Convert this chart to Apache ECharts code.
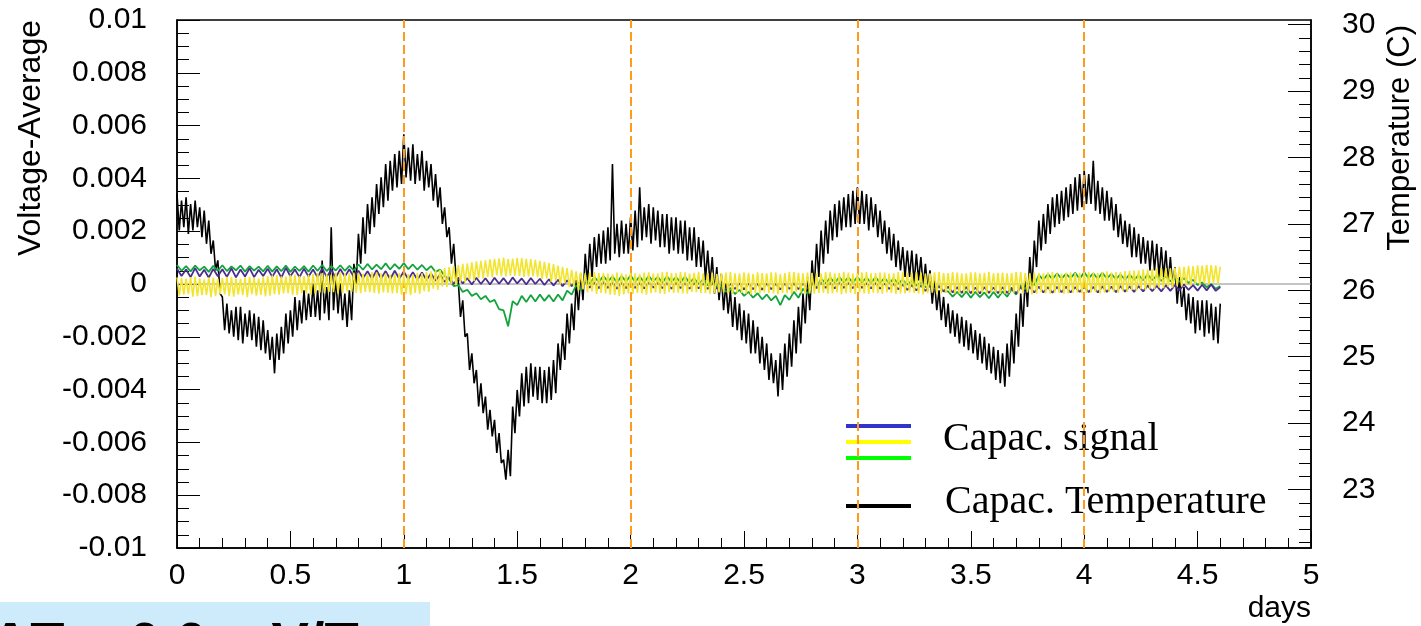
<!DOCTYPE html>
<html>
<head>
<meta charset="utf-8">
<title>Capac. signal / temperature</title>
<script src="https://cdn.jsdelivr.net/npm/echarts@6.0.0/dist/echarts.min.js"></script>
<style>
  html, body { margin: 0; padding: 0; background: #fff; }
  #main { width: 1421px; height: 626px; }
</style>
</head>
<body>
<div id="main"></div>
<script>
// sampling steps (days)
var FINE_STEP = 0.01;    // temperature and yellow channel
var COARSE_STEP = 0.02;  // green and blue channels

// Capac. Temperature (C), right axis, every 0.01 day
var tempC = [
    27.45, 26.90, 27.35, 26.95, 27.40, 26.85, 27.30, 26.90, 27.35, 26.95, 27.25, 26.80, 27.20, 26.70, 27.05, 26.55, 26.75, 26.30, 26.45, 25.95,
    25.90, 25.40, 25.80, 25.35, 25.70, 25.30, 25.75, 25.25, 25.75, 25.20, 25.65, 25.30, 25.70, 25.25, 25.65, 25.15, 25.60, 25.10, 25.55, 25.05,
    25.40, 24.95, 25.30, 24.75, 25.35, 24.95, 25.45, 25.05, 25.65, 25.20, 25.70, 25.30, 25.90, 25.40, 25.85, 25.50, 26.00, 25.55, 25.95, 25.60,
    26.10, 25.60, 26.00, 25.55, 26.45, 25.65, 26.05, 25.55, 26.95, 25.70, 26.20, 25.65, 26.10, 25.55, 25.95, 25.45, 26.00, 25.55, 26.40, 26.10,
    26.85, 26.40, 27.10, 26.55, 27.30, 26.85, 27.40, 26.95, 27.60, 27.15, 27.70, 27.25, 27.90, 27.35, 27.95, 27.50, 28.05, 27.55, 28.10, 27.60,
    28.35, 27.70, 28.15, 27.65, 28.20, 27.60, 28.05, 27.65, 28.10, 27.50, 27.95, 27.55, 27.90, 27.35, 27.75, 27.25, 27.55, 27.00, 27.25, 26.80,
    26.95, 26.40, 26.70, 26.20, 26.15, 25.60, 25.85, 25.30, 25.35, 24.80, 25.05, 24.60, 24.80, 24.25, 24.60, 24.15, 24.40, 23.90, 24.20, 23.80,
    24.05, 23.55, 23.85, 23.40, 23.45, 23.15, 23.60, 23.20, 24.25, 23.85, 24.50, 24.10, 24.75, 24.25, 24.85, 24.30, 24.90, 24.40, 24.85, 24.35,
    24.85, 24.30, 24.80, 24.30, 24.85, 24.35, 24.95, 24.45, 25.20, 24.80, 25.35, 24.95, 25.65, 25.20, 25.80, 25.40, 26.15, 25.70, 26.25, 25.85,
    26.55, 26.10, 26.70, 26.20, 26.80, 26.35, 26.85, 26.40, 26.90, 26.40, 26.95, 26.45, 27.90, 26.55, 27.00, 26.50, 27.05, 26.55, 27.00, 26.55,
    27.10, 26.60, 27.20, 26.65, 27.55, 26.75, 27.25, 26.80, 27.30, 26.70, 27.25, 26.75, 27.20, 26.65, 27.15, 26.65, 27.15, 26.55, 27.10, 26.60,
    27.10, 26.55, 27.05, 26.55, 27.05, 26.45, 26.95, 26.45, 26.95, 26.35, 26.80, 26.35, 26.75, 26.15, 26.60, 26.10, 26.50, 25.95, 26.35, 25.85,
    26.25, 25.70, 26.10, 25.65, 26.00, 25.45, 25.90, 25.40, 25.80, 25.25, 25.70, 25.20, 25.65, 25.05, 25.55, 25.05, 25.45, 24.90, 25.30, 24.80,
    25.20, 24.65, 25.05, 24.60, 24.95, 24.40, 25.05, 24.50, 25.20, 24.70, 25.35, 24.85, 25.55, 25.05, 25.75, 25.20, 25.95, 25.50, 26.20, 25.70,
    26.45, 26.05, 26.70, 26.20, 26.90, 26.40, 27.05, 26.55, 27.20, 26.75, 27.30, 26.80, 27.35, 26.90, 27.40, 26.95, 27.45, 26.95, 27.50, 27.00,
    27.55, 27.00, 27.50, 27.00, 27.45, 26.90, 27.40, 26.95, 27.30, 26.80, 27.20, 26.70, 27.05, 26.55, 26.95, 26.45, 26.85, 26.35, 26.75, 26.30,
    26.65, 26.20, 26.60, 26.20, 26.60, 26.10, 26.55, 26.15, 26.50, 26.05, 26.40, 26.00, 26.30, 25.80, 26.15, 25.70, 26.00, 25.55, 25.90, 25.45,
    25.80, 25.35, 25.70, 25.30, 25.65, 25.20, 25.60, 25.15, 25.55, 25.10, 25.50, 25.05, 25.40, 24.95, 25.35, 24.90, 25.30, 24.80, 25.20, 24.75,
    25.15, 24.65, 25.10, 24.60, 25.05, 24.55, 25.20, 24.70, 25.40, 24.90, 25.65, 25.15, 25.95, 25.45, 26.20, 25.75, 26.50, 26.05, 26.75, 26.35,
    27.05, 26.60, 27.15, 26.70, 27.30, 26.85, 27.40, 26.95, 27.45, 27.00, 27.50, 27.05, 27.55, 27.10, 27.60, 27.15, 27.70, 27.20, 27.75, 27.25,
    27.80, 27.30, 27.75, 27.30, 27.95, 27.20, 27.65, 27.15, 27.55, 27.05, 27.50, 27.05, 27.40, 26.90, 27.30, 26.80, 27.15, 26.70, 27.05, 26.65,
    27.00, 26.50, 26.95, 26.50, 26.85, 26.40, 26.80, 26.40, 26.75, 26.30, 26.75, 26.30, 26.70, 26.20, 26.65, 26.20, 26.60, 26.10, 26.50, 26.05,
    26.35, 25.80, 26.20, 25.75, 26.05, 25.55, 25.95, 25.50, 25.90, 25.35, 25.85, 25.40, 25.85, 25.30, 25.85, 25.35, 25.80, 25.25, 25.75, 25.20,
    25.80
];

// Capac. signal, yellow channel (V), every 0.01 day
var sigYellow = [
    0.00025, -0.00044, 0.00022, -0.00040, 0.00020, -0.00038, 0.00026, -0.00048, 0.00028, -0.00046, 0.00021, -0.00042, 0.00018, -0.00041, 0.00025, -0.00050, 0.00024, -0.00045, 0.00019, -0.00038,
    0.00022, -0.00039, 0.00027, -0.00046, 0.00026, -0.00048, 0.00020, -0.00040, 0.00019, -0.00042, 0.00025, -0.00050, 0.00027, -0.00038, 0.00023, -0.00044, 0.00021, -0.00041, 0.00026, -0.00047,
    0.00030, -0.00044, 0.00033, -0.00038, 0.00034, -0.00040, 0.00029, -0.00036, 0.00028, -0.00035, 0.00035, -0.00042, 0.00036, -0.00041, 0.00031, -0.00035, 0.00030, -0.00036, 0.00035, -0.00040,
    0.00038, -0.00036, 0.00041, -0.00032, 0.00042, -0.00035, 0.00037, -0.00030, 0.00036, -0.00031, 0.00043, -0.00036, 0.00044, -0.00034, 0.00039, -0.00028, 0.00040, -0.00030, 0.00043, -0.00034,
    0.00042, -0.00035, 0.00039, -0.00030, 0.00038, -0.00031, 0.00045, -0.00034, 0.00044, -0.00037, 0.00040, -0.00032, 0.00040, -0.00033, 0.00036, -0.00036, 0.00038, -0.00035, 0.00041, -0.00040,
    0.00034, -0.00037, 0.00038, -0.00042, 0.00036, -0.00034, 0.00042, -0.00038, 0.00040, -0.00027, 0.00045, -0.00030, 0.00048, -0.00018, 0.00052, -0.00022, 0.00055, -0.00010, 0.00060, -0.00012,
    0.00064, 0.00000, 0.00068, -0.00004, 0.00072, 0.00008, 0.00076, 0.00006, 0.00078, 0.00016, 0.00082, 0.00012, 0.00086, 0.00022, 0.00088, 0.00020, 0.00090, 0.00027, 0.00093, 0.00025,
    0.00095, 0.00033, 0.00097, 0.00030, 0.00100, 0.00029, 0.00094, 0.00032, 0.00096, 0.00031, 0.00099, 0.00030, 0.00098, 0.00027, 0.00095, 0.00028, 0.00094, 0.00029, 0.00091, 0.00026,
    0.00088, 0.00018, 0.00084, 0.00020, 0.00080, 0.00008, 0.00075, 0.00012, 0.00070, -0.00002, 0.00065, 0.00002, 0.00060, -0.00012, 0.00054, -0.00010, 0.00048, -0.00024, 0.00044, -0.00020,
    0.00040, -0.00032, 0.00044, -0.00028, 0.00046, -0.00038, 0.00041, -0.00034, 0.00042, -0.00036, 0.00039, -0.00040, 0.00038, -0.00041, 0.00043, -0.00045, 0.00040, -0.00039, 0.00037, -0.00036,
    0.00042, -0.00038, 0.00040, -0.00034, 0.00038, -0.00036, 0.00043, -0.00040, 0.00044, -0.00035, 0.00039, -0.00032, 0.00040, -0.00036, 0.00045, -0.00038, 0.00046, -0.00031, 0.00041, -0.00034,
    0.00040, -0.00033, 0.00045, -0.00036, 0.00044, -0.00037, 0.00039, -0.00030, 0.00042, -0.00031, 0.00046, -0.00034, 0.00040, -0.00035, 0.00041, -0.00038, 0.00043, -0.00036, 0.00038, -0.00032,
    0.00041, -0.00031, 0.00043, -0.00036, 0.00045, -0.00038, 0.00040, -0.00033, 0.00040, -0.00034, 0.00044, -0.00037, 0.00042, -0.00039, 0.00038, -0.00035, 0.00044, -0.00036, 0.00041, -0.00032,
    0.00040, -0.00034, 0.00044, -0.00036, 0.00043, -0.00039, 0.00038, -0.00034, 0.00041, -0.00035, 0.00046, -0.00038, 0.00045, -0.00030, 0.00042, -0.00033, 0.00040, -0.00038, 0.00043, -0.00036,
    0.00042, -0.00037, 0.00039, -0.00034, 0.00040, -0.00033, 0.00045, -0.00037, 0.00044, -0.00036, 0.00040, -0.00032, 0.00041, -0.00039, 0.00046, -0.00035, 0.00043, -0.00034, 0.00039, -0.00038,
    0.00040, -0.00032, 0.00044, -0.00036, 0.00045, -0.00038, 0.00040, -0.00033, 0.00041, -0.00035, 0.00043, -0.00037, 0.00043, -0.00031, 0.00039, -0.00034, 0.00040, -0.00038, 0.00045, -0.00036,
    0.00044, -0.00036, 0.00042, -0.00032, 0.00041, -0.00034, 0.00045, -0.00037, 0.00043, -0.00039, 0.00039, -0.00035, 0.00040, -0.00033, 0.00044, -0.00038, 0.00045, -0.00036, 0.00041, -0.00033,
    0.00041, -0.00033, 0.00045, -0.00036, 0.00043, -0.00038, 0.00039, -0.00034, 0.00040, -0.00032, 0.00044, -0.00037, 0.00044, -0.00036, 0.00040, -0.00035, 0.00042, -0.00037, 0.00046, -0.00033,
    0.00040, -0.00034, 0.00042, -0.00038, 0.00043, -0.00037, 0.00040, -0.00034, 0.00041, -0.00033, 0.00046, -0.00036, 0.00045, -0.00035, 0.00041, -0.00032, 0.00040, -0.00039, 0.00043, -0.00037,
    0.00042, -0.00031, 0.00040, -0.00035, 0.00044, -0.00037, 0.00045, -0.00033, 0.00040, -0.00034, 0.00039, -0.00038, 0.00043, -0.00036, 0.00044, -0.00034, 0.00041, -0.00032, 0.00042, -0.00036,
    0.00044, -0.00035, 0.00046, -0.00032, 0.00042, -0.00031, 0.00041, -0.00036, 0.00046, -0.00033, 0.00048, -0.00030, 0.00043, -0.00029, 0.00045, -0.00034, 0.00045, -0.00027, 0.00049, -0.00030,
    0.00050, -0.00023, 0.00051, -0.00026, 0.00052, -0.00020, 0.00056, -0.00022, 0.00055, -0.00018, 0.00057, -0.00020, 0.00058, -0.00013, 0.00061, -0.00016, 0.00060, -0.00011, 0.00059, -0.00014,
    0.00062, -0.00008, 0.00066, -0.00010, 0.00065, -0.00004, 0.00069, -0.00006, 0.00068, -0.00001, 0.00071, -0.00004, 0.00070, 0.00001, 0.00073, -0.00002, 0.00072, 0.00003, 0.00070, 0.00000,
    0.00066
];

// Capac. signal, green channel (V), every 0.02 day
var sigGreen = [
    0.00072, 0.00050, 0.00068, 0.00048, 0.00070, 0.00052, 0.00066, 0.00046, 0.00069, 0.00050,
    0.00071, 0.00049, 0.00067, 0.00052, 0.00070, 0.00047, 0.00068, 0.00051, 0.00066, 0.00048,
    0.00069, 0.00047, 0.00067, 0.00049, 0.00070, 0.00046, 0.00066, 0.00050, 0.00068, 0.00047,
    0.00070, 0.00050, 0.00072, 0.00049, 0.00068, 0.00051, 0.00071, 0.00050, 0.00069, 0.00052,
    0.00074, 0.00054, 0.00076, 0.00055, 0.00073, 0.00056, 0.00078, 0.00055, 0.00075, 0.00057,
    0.00079, 0.00056, 0.00074, 0.00054, 0.00072, 0.00052, 0.00068, 0.00046, 0.00055, 0.00030,
    0.00018, -0.00008, -0.00004, -0.00030, -0.00022, -0.00045, -0.00035, -0.00058, -0.00045, -0.00068,
    -0.00060, -0.00095, -0.00100, -0.00160, -0.00065, -0.00080, -0.00045, -0.00068, -0.00042, -0.00066,
    -0.00040, -0.00064, -0.00042, -0.00066, -0.00040, -0.00062, -0.00025, -0.00040, -0.00005, -0.00022,
    0.00018, 0.00002, 0.00026, 0.00008, 0.00030, 0.00010, 0.00028, 0.00006, 0.00030, 0.00010,
    0.00032, 0.00008, 0.00028, 0.00006, 0.00030, 0.00010, 0.00027, 0.00005, 0.00029, 0.00008,
    0.00026, 0.00006, 0.00028, 0.00004, 0.00022, 0.00000, 0.00018, -0.00005, 0.00010, -0.00012,
    -0.00008, -0.00030, -0.00015, -0.00038, -0.00022, -0.00045, -0.00030, -0.00052, -0.00035, -0.00058,
    -0.00040, -0.00062, -0.00045, -0.00080, -0.00042, -0.00060, -0.00030, -0.00052, -0.00018, -0.00038,
    0.00002, -0.00014, 0.00020, 0.00002, 0.00024, 0.00004, 0.00026, 0.00006, 0.00025, 0.00005,
    0.00026, 0.00006, 0.00024, 0.00004, 0.00025, 0.00005, 0.00022, 0.00003, 0.00020, 0.00002,
    0.00016, -0.00002, 0.00012, -0.00006, 0.00006, -0.00012, 0.00000, -0.00020, -0.00008, -0.00028,
    -0.00028, -0.00048, -0.00030, -0.00050, -0.00028, -0.00052, -0.00030, -0.00050, -0.00032, -0.00054,
    -0.00030, -0.00052, -0.00028, -0.00048, -0.00020, -0.00040, -0.00005, -0.00020, 0.00012, -0.00004,
    0.00034, 0.00016, 0.00038, 0.00018, 0.00040, 0.00020, 0.00038, 0.00022, 0.00042, 0.00020,
    0.00044, 0.00022, 0.00040, 0.00020, 0.00042, 0.00021, 0.00038, 0.00018, 0.00036, 0.00016,
    0.00036, 0.00016, 0.00034, 0.00014, 0.00036, 0.00015, 0.00032, 0.00012, 0.00030, 0.00010,
    0.00028, 0.00008, 0.00022, 0.00004, 0.00016, -0.00004, 0.00006, -0.00012, 0.00000, -0.00018,
    -0.00008
];

// Capac. signal, blue channel (V), every 0.02 day
var sigBlue = [
    0.00058, 0.00030, 0.00055, 0.00026, 0.00060, 0.00028, 0.00054, 0.00024, 0.00057, 0.00029,
    0.00056, 0.00027, 0.00059, 0.00025, 0.00055, 0.00028, 0.00060, 0.00026, 0.00054, 0.00030,
    0.00058, 0.00027, 0.00056, 0.00024, 0.00061, 0.00029, 0.00055, 0.00026, 0.00058, 0.00028,
    0.00055, 0.00025, 0.00059, 0.00027, 0.00054, 0.00024, 0.00057, 0.00028, 0.00056, 0.00026,
    0.00050, 0.00022, 0.00048, 0.00020, 0.00052, 0.00021, 0.00049, 0.00018, 0.00050, 0.00020,
    0.00047, 0.00018, 0.00045, 0.00016, 0.00044, 0.00015, 0.00040, 0.00012, 0.00036, 0.00008,
    0.00026, 0.00000, 0.00024, 0.00002, 0.00022, -0.00002, 0.00024, 0.00000, 0.00022, -0.00002,
    0.00024, 0.00001, 0.00022, -0.00001, 0.00025, 0.00002, 0.00021, -0.00002, 0.00023, 0.00000,
    0.00020, -0.00004, 0.00018, -0.00006, 0.00016, -0.00008, 0.00014, -0.00008, 0.00012, -0.00010,
    0.00008, -0.00014, 0.00006, -0.00016, 0.00008, -0.00015, 0.00006, -0.00018, 0.00005, -0.00016,
    0.00006, -0.00015, 0.00004, -0.00017, 0.00006, -0.00014, 0.00005, -0.00016, 0.00004, -0.00018,
    0.00005, -0.00016, 0.00003, -0.00018, 0.00004, -0.00017, 0.00002, -0.00019, 0.00003, -0.00018,
    0.00002, -0.00020, 0.00001, -0.00019, 0.00003, -0.00021, 0.00002, -0.00020, 0.00001, -0.00022,
    0.00002, -0.00020, 0.00001, -0.00021, 0.00002, -0.00019, 0.00003, -0.00020, 0.00002, -0.00018,
    0.00004, -0.00016, 0.00005, -0.00015, 0.00004, -0.00017, 0.00006, -0.00015, 0.00004, -0.00016,
    0.00005, -0.00015, 0.00003, -0.00017, 0.00004, -0.00018, 0.00002, -0.00019, 0.00001, -0.00020,
    -0.00002, -0.00022, -0.00004, -0.00024, -0.00005, -0.00026, -0.00006, -0.00027, -0.00008, -0.00028,
    -0.00010, -0.00032, -0.00012, -0.00034, -0.00011, -0.00035, -0.00013, -0.00036, -0.00012, -0.00034,
    -0.00013, -0.00035, -0.00012, -0.00034, -0.00014, -0.00036, -0.00012, -0.00033, -0.00011, -0.00032,
    -0.00010, -0.00032, -0.00012, -0.00033, -0.00011, -0.00031, -0.00010, -0.00032, -0.00012, -0.00030,
    -0.00010, -0.00031, -0.00011, -0.00032, -0.00009, -0.00030, -0.00010, -0.00031, -0.00008, -0.00029,
    -0.00009, -0.00030, -0.00008, -0.00028, -0.00006, -0.00027, -0.00007, -0.00028, -0.00005, -0.00026,
    -0.00004, -0.00024, -0.00002, -0.00022, -0.00004, -0.00025, -0.00003, -0.00024, -0.00002, -0.00026,
    -0.00012
];

// flat zero trace (grey) across the whole range
var zeroTrace = [[0, 0], [5, 0]];

// orange dashed day markers
var markerDays = [1, 2, 3, 4];

// right axis tick labels
var tempLabels = [23, 24, 25, 26, 27, 28, 29, 30];

function toPairs(vals, step) {
    return vals.map(function (v, i) { return [+(i * step).toFixed(2), v]; });
}

// minor tick positions (drawn by overlay axes so they point inside)
function minorTicks(from, to, step, major) {
    var out = [];
    var n = Math.round((to - from) / step);
    for (var i = 0; i <= n; i++) {
        var v = +(from + i * step).toFixed(6);
        var k = v / major;
        if (Math.abs(k - Math.round(k)) > 1e-6) out.push(v);
    }
    return out;
}
var xMinor = minorTicks(0, 5, 0.1, 0.5);
var vMinor = minorTicks(-0.01, 0.01, 0.0005, 0.002);
var tempMinor = minorTicks(22.2, 30, 0.2, 1);

var FONT = '"Liberation Sans", Arial, Helvetica, sans-serif';
var SERIF = '"Liberation Serif", "Times New Roman", serif';
var BLACK_LINE = { color: '#000', width: 1 };

var dom = document.getElementById('main');
var myChart = echarts.init(dom, null, { renderer: 'canvas' });

var option = {
    backgroundColor: '#ffffff',
    animation: false,
    grid: {
        left: 177,
        right: 110,
        top: 20,
        bottom: 78,
        show: true,
        borderColor: '#000',
        borderWidth: 1.5,
        backgroundColor: 'transparent'
    },
    xAxis: [
        {
            type: 'value',
            min: 0,
            max: 5,
            interval: 0.5,
            position: 'bottom',
            name: 'days',
            nameLocation: 'end',
            nameGap: 0,
            nameTextStyle: {
                fontSize: 30, fontFamily: FONT, color: '#000',
                align: 'right', verticalAlign: 'top', padding: [46, 0, 0, 0]
            },
            axisLine: { show: true, onZero: false, lineStyle: { color: '#000', width: 1.5 } },
            axisTick: { show: true, inside: true, length: 17, lineStyle: BLACK_LINE },
            splitLine: { show: false },
            axisLabel: { fontSize: 30, fontFamily: FONT, color: '#000', margin: 13 }
        },
        {
            type: 'value',
            min: 0,
            max: 5,
            position: 'bottom',
            axisLine: { show: false, onZero: false },
            axisTick: { show: true, inside: true, length: 10, customValues: xMinor, lineStyle: BLACK_LINE },
            splitLine: { show: false },
            axisLabel: { show: false }
        }
    ],
    yAxis: [
        {
            type: 'value',
            min: -0.01,
            max: 0.01,
            interval: 0.002,
            position: 'left',
            axisLine: { show: true, onZero: false, lineStyle: { color: '#000', width: 1.5 } },
            axisTick: { show: true, inside: true, length: 23, lineStyle: BLACK_LINE },
            splitLine: { show: false },
            axisLabel: { fontSize: 30, fontFamily: FONT, color: '#000', margin: 30 }
        },
        {
            type: 'value',
            min: 22.12,
            max: 30.07,
            position: 'right',
            axisLine: { show: true, onZero: false, lineStyle: { color: '#000', width: 1.5 } },
            axisTick: {
                show: true, inside: true, length: 23, customValues: tempLabels,
                lineStyle: BLACK_LINE
            },
            splitLine: { show: false },
            axisLabel: {
                customValues: tempLabels,
                fontSize: 30, fontFamily: FONT, color: '#000', margin: 31
            }
        },
        {
            type: 'value',
            min: 22.12,
            max: 30.07,
            position: 'right',
            axisLine: { show: false, onZero: false },
            axisTick: {
                show: true, inside: true, length: 12, customValues: tempMinor,
                lineStyle: BLACK_LINE
            },
            splitLine: { show: false },
            axisLabel: { show: false }
        },
        {
            type: 'value',
            min: -0.01,
            max: 0.01,
            position: 'left',
            axisLine: { show: false, onZero: false },
            axisTick: {
                show: true, inside: true, length: 12, customValues: vMinor,
                lineStyle: BLACK_LINE
            },
            splitLine: { show: false },
            axisLabel: { show: false }
        }
    ],
    series: [
        {
            name: 'zero',
            type: 'line',
            data: zeroTrace,
            showSymbol: false,
            silent: true,
            z: 1,
            lineStyle: { color: '#8a8a8a', width: 1 }
        },
        {
            name: 'Capac. Temperature',
            type: 'line',
            yAxisIndex: 1,
            data: toPairs(tempC, FINE_STEP),
            showSymbol: false,
            z: 2,
            lineStyle: { color: '#000', width: 1.6 }
        },
        {
            name: 'Capac. signal (green)',
            type: 'line',
            data: toPairs(sigGreen, COARSE_STEP),
            showSymbol: false,
            z: 3,
            lineStyle: { color: '#12a43c', width: 1.8 }
        },
        {
            name: 'Capac. signal (blue)',
            type: 'line',
            data: toPairs(sigBlue, COARSE_STEP),
            showSymbol: false,
            z: 4,
            lineStyle: { color: '#4a2d8f', width: 1.8 }
        },
        {
            name: 'Capac. signal (yellow)',
            type: 'line',
            data: toPairs(sigYellow, FINE_STEP),
            showSymbol: false,
            z: 5,
            lineStyle: { color: '#f2e52c', width: 1.6 },
            markLine: {
                silent: true,
                symbol: 'none',
                label: { show: false },
                lineStyle: { color: '#ff9a1a', width: 2, type: [9, 4] },
                data: markerDays.map(function (d) { return { xAxis: d }; })
            }
        }
    ],
    graphic: [
        // axis titles
        {
            type: 'text', x: 31, y: 20, rotation: Math.PI / 2,
            style: {
                text: 'Voltage-Average', font: '32px ' + FONT, fill: '#000',
                align: 'right', verticalAlign: 'middle'
            }
        },
        {
            type: 'text', x: 1400, y: 25, rotation: Math.PI / 2,
            style: {
                text: 'Temperature (C)', font: '31px ' + FONT, fill: '#000',
                align: 'right', verticalAlign: 'middle'
            }
        },
        // legend
        { type: 'line', shape: { x1: 846, y1: 426, x2: 911, y2: 426 }, style: { stroke: '#3333cc', lineWidth: 4 } },
        { type: 'line', shape: { x1: 846, y1: 442, x2: 911, y2: 442 }, style: { stroke: '#ffff00', lineWidth: 4 } },
        { type: 'line', shape: { x1: 846, y1: 458, x2: 911, y2: 458 }, style: { stroke: '#00ff00', lineWidth: 4 } },
        { type: 'line', shape: { x1: 846, y1: 506, x2: 911, y2: 506 }, style: { stroke: '#000000', lineWidth: 4 } },
        {
            type: 'text', x: 943, y: 439,
            style: { text: 'Capac. signal', font: '40px ' + SERIF, fill: '#000', verticalAlign: 'middle' }
        },
        {
            type: 'text', x: 945, y: 502,
            style: { text: 'Capac. Temperature', font: '40px ' + SERIF, fill: '#000', verticalAlign: 'middle' }
        },
        // clipped caption box at the bottom left of the slide
        {
            type: 'rect', x: 0, y: 602, shape: { width: 430, height: 30 },
            style: { fill: '#cdebfb' }
        },
        {
            type: 'text', x: -10, y: 618,
            style: {
                text: 'ΔT = 6.6 mV/T', font: 'bold 56px ' + FONT, fill: '#000',
                verticalAlign: 'top'
            }
        }
    ]
};

if (option && typeof option === 'object') {
    myChart.setOption(option, true);
}
</script>
</body>
</html>
